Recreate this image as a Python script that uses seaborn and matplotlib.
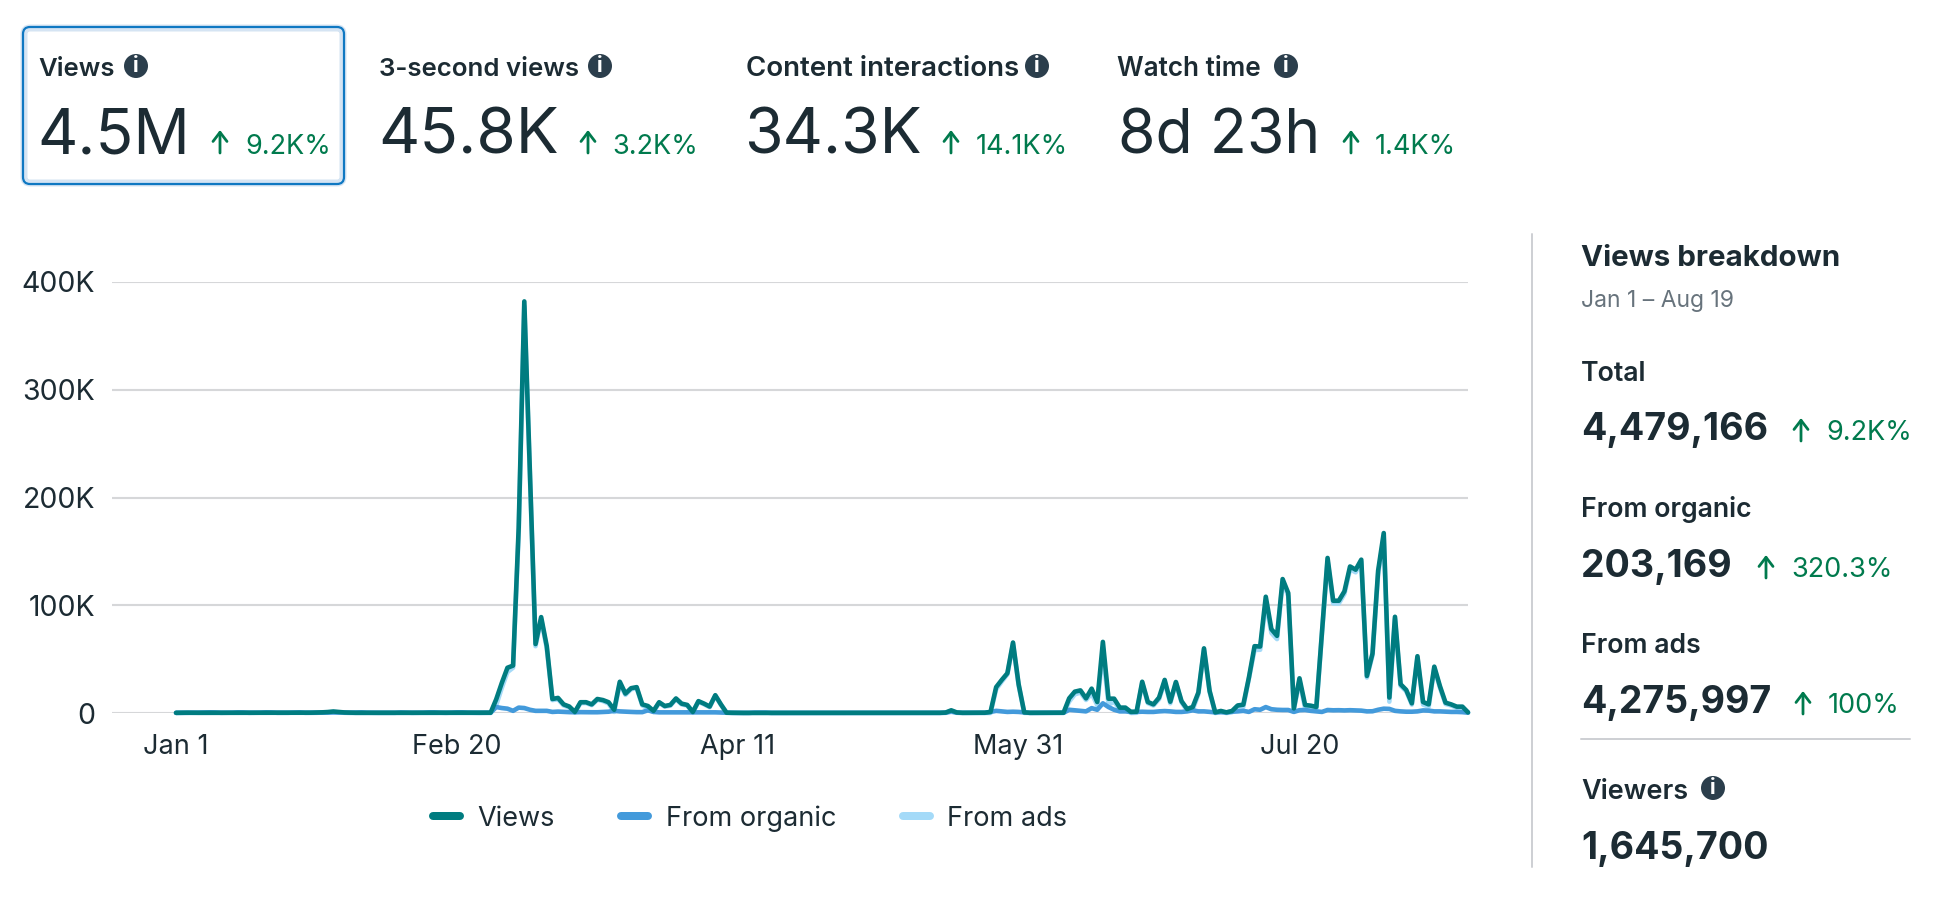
import pandas as pd
import matplotlib
matplotlib.use("Agg")
import matplotlib.pyplot as plt
import seaborn as sns
from matplotlib.lines import Line2D
from matplotlib.patches import Circle, FancyBboxPatch

# daily values in thousands, Jan 1 - Aug 19
views = [
    0.2, 0.3, 0.3, 0.2, 0.2, 0.2, 0.1, 0.1, 0.2, 0.3,
    0.3, 0.1, 0.1, 0.3, 0.3, 0.2, 0.1, 0.1, 0.3, 0.3,
    0.2, 0.2, 0.1, 0.2, 0.3, 0.4, 0.6, 0.9, 1.4, 0.9,
    0.5, 0.3, 0.2, 0.2, 0.2, 0.3, 0.2, 0.2, 0.3, 0.2,
    0.1, 0.2, 0.3, 0.3, 0.2, 0.1, 0.1, 0.2, 0.3, 0.2,
    0.1, 0.1, 0.2, 0.3, 0.3, 0.3, 0.3, 12.7, 28, 42,
    44, 172, 382, 222, 64, 89, 62, 13, 14, 8,
    6, 1, 10, 10, 8, 13, 12, 10, 3, 29,
    18, 23, 24, 8, 6.5, 2, 10, 6.5, 7.5, 13.5,
    8.7, 7.5, 1, 11, 8.7, 6, 16.5, 8, 0.3, 0.2,
    0.2, 0.1, 0.1, 0.2, 0.2, 0.2, 0.1, 0.2, 0.1, 0.1,
    0.1, 0.2, 0.2, 0.1, 0.1, 0.2, 0.2, 0.1, 0.2, 0.2,
    0.1, 0.1, 0.2, 0.2, 0.1, 0.2, 0.2, 0.1, 0.1, 0.2,
    0.2, 0.1, 0.2, 0.2, 0.2, 0.2, 0.2, 0.4, 2.5, 0.5,
    0.2, 0.2, 0.2, 0.2, 0.3, 1, 24, 30.7, 36.9, 65.4,
    26.7, 0.6, 0.2, 0.2, 0.1, 0.1, 0.2, 0.2, 0.3, 13.6,
    19.8, 21, 13.6, 22.6, 10.2, 66, 13.3, 13.3, 5, 5,
    1, 1.2, 29, 10.2, 8, 14.3, 30.7, 10.5, 28.8, 11,
    3.7, 5.6, 19, 60, 20.5, 0.6, 1.9, 0.6, 1.9, 7,
    7.7, 33, 62, 61.7, 107.9, 77.8, 71.6, 124.3, 111.3, 4.3,
    32.2, 7.4, 6.8, 5.6, 75, 143.9, 104.2, 104.2, 112.9, 136,
    133, 142.3, 34.4, 55.2, 132, 167, 14.3, 89.3, 26.7, 21.4,
    9, 52.7, 10.2, 8, 43, 25, 9.6, 8, 5.9, 5.9,
    0.6,
]
from_organic = [
    0.1, 0.2, 0.2, 0.2, 0.3, 0.5, 0.6, 0.5, 0.2, 0.2,
    0.3, 0.6, 0.5, 0.2, 0.2, 0.3, 0.6, 0.5, 0.2, 0.2,
    0.2, 0.4, 0.6, 0.2, 0.2, 0.2, 0.3, 0.4, 0.5, 0.4,
    0.3, 0.3, 0.5, 0.6, 0.3, 0.2, 0.2, 0.2, 0.2, 0.2,
    0.5, 0.3, 0.2, 0.2, 0.3, 0.6, 0.6, 0.3, 0.2, 0.3,
    0.6, 0.6, 0.3, 0.2, 0.2, 0.2, 0.3, 5.5, 4.6, 4,
    2, 5, 4.6, 3, 2, 2, 2, 1, 1.3, 1,
    0.8, 0.7, 0.8, 0.7, 0.7, 0.7, 0.9, 1.2, 2, 1.5,
    1.2, 1, 0.8, 0.8, 2.5, 1, 0.6, 0.6, 0.7, 0.7,
    0.7, 0.6, 0.5, 0.6, 0.6, 0.6, 0.6, 0.4, 0.1, 0.1,
    0.1, 0.1, 0.1, 0.4, 0.4, 0.4, 0.1, 0.1, 0.1, 0.1,
    0.1, 0.1, 0.1, 0.1, 0.1, 0.1, 0.1, 0.1, 0.1, 0.1,
    0.1, 0.1, 0.1, 0.1, 0.1, 0.1, 0.1, 0.1, 0.1, 0.1,
    0.1, 0.1, 0.1, 0.1, 0.1, 0.1, 0.1, 0.3, 1.5, 0.3,
    0.1, 0.1, 0.1, 0.1, 0.2, 1, 2, 1.5, 1, 1.2,
    1, 0.5, 0.1, 0.1, 0.1, 0.1, 0.1, 0.1, 0.2, 3,
    2.5, 2, 1.5, 4.5, 3, 9, 5.5, 3, 1.5, 1.5,
    1, 1, 1.2, 1, 1, 1.5, 1.8, 1.5, 1, 1,
    1.5, 2.5, 1.5, 1.5, 1, 0.6, 0.8, 0.6, 1.2, 1.5,
    2, 1, 3.5, 3, 5.5, 3.5, 3, 2.8, 2.8, 1,
    2.6, 2.8, 2, 1.5, 1, 2.8, 2.5, 2.6, 2.4, 2.6,
    2.4, 2.2, 1.5, 1.6, 3, 4, 3.8, 2, 1.5, 1.2,
    1.2, 1.5, 2.4, 2.2, 1.5, 1.5, 1.2, 1, 1, 0.8,
    0.3,
]
from_ads = [
    0.1, 0.1, 0.1, 0, 0, 0, 0, 0, 0, 0.1,
    0, 0, 0, 0.1, 0.1, 0, 0, 0, 0.1, 0.1,
    0, 0, 0, 0, 0.1, 0.2, 0.3, 0.5, 0.9, 0.5,
    0.2, 0, 0, 0, 0, 0.1, 0, 0, 0.1, 0,
    0, 0, 0.1, 0.1, 0, 0, 0, 0, 0.1, 0,
    0, 0, 0, 0.1, 0.1, 0.1, 0, 7.2, 23.4, 38,
    42, 167, 377.4, 219, 62, 87, 60, 12, 12.7, 7,
    5.2, 0.3, 9.2, 9.3, 7.3, 12.3, 11.1, 8.8, 1, 27.5,
    16.8, 22, 23.2, 7.2, 4, 1, 9.4, 5.9, 6.8, 12.8,
    8, 6.9, 0.5, 10.4, 8.1, 5.4, 15.9, 7.6, 0.2, 0.1,
    0.1, 0, 0, 0, 0, 0, 0, 0.1, 0, 0,
    0, 0.1, 0.1, 0, 0, 0.1, 0.1, 0, 0.1, 0.1,
    0, 0, 0.1, 0.1, 0, 0.1, 0.1, 0, 0, 0.1,
    0.1, 0, 0.1, 0.1, 0.1, 0.1, 0.1, 0.1, 1, 0.2,
    0.1, 0.1, 0.1, 0.1, 0.1, 0, 22, 29.2, 35.9, 64.2,
    25.7, 0.1, 0.1, 0.1, 0, 0, 0.1, 0.1, 0.1, 10.6,
    17.3, 19, 12.1, 18.1, 7.2, 57, 7.8, 10.3, 3.5, 3.5,
    0, 0.2, 27.8, 9.2, 7, 12.8, 28.9, 9, 27.8, 10,
    2.2, 3.1, 17.5, 58.5, 19.5, 0, 1.1, 0, 0.7, 5.5,
    5.7, 32, 58.5, 58.7, 102.4, 74.3, 68.6, 121.5, 108.5, 3.3,
    29.6, 4.6, 4.8, 4.1, 74, 141.1, 101.7, 101.6, 110.5, 133.4,
    130.6, 140.1, 32.9, 53.6, 129, 163, 10.5, 87.3, 25.2, 20.2,
    7.8, 51.2, 7.8, 5.8, 41.5, 23.5, 8.4, 7, 4.9, 5.1,
    0.3,
]
tick_dates = ["2025-01-01", "2025-02-20", "2025-04-11", "2025-05-31", "2025-07-20"]
tick_labels = ["Jan 1", "Feb 20", "Apr 11", "May 31", "Jul 20"]
y_ticks = [0, 100, 200, 300, 400]
y_labels = ["0", "100K", "200K", "300K", "400K"]

W, H = 1954, 898
INK = "#1C2B33"
GREEN = "#007A4D"
TEAL = "#007C80"
ORGANIC = "#439ADB"
ADS = "#A4DAF8"
PX = 72 / 100  # points per pixel at dpi 100

sns.set_theme(style="white")
plt.rcParams["font.family"] = ["Inter", "DejaVu Sans"]

dates = pd.date_range("2025-01-01", periods=len(views))
df = pd.DataFrame({"date": dates, "Views": views, "From organic": from_organic, "From ads": from_ads})
long_df = df.melt(id_vars="date", var_name="series", value_name="value")

fig = plt.figure(figsize=(W / 100, H / 100), dpi=100, facecolor="white")
ax = fig.add_axes([112 / W, 1 - 713 / H, (1468 - 112) / W, (713 - 282) / H])

sns.lineplot(
    data=long_df, x="date", y="value", hue="series",
    hue_order=["From ads", "From organic", "Views"],
    palette={"From ads": ADS, "From organic": ORGANIC, "Views": TEAL},
    linewidth=4.6 * PX, errorbar=None, legend=False, ax=ax, zorder=3,
)
for line in ax.lines:
    line.set_clip_on(False)

ax.set_xlim(dates[0] - pd.Timedelta(days=11.4), dates[-1])
ax.set_ylim(0, 400)
ax.set_xticks(pd.to_datetime(tick_dates))
ax.set_xticklabels(tick_labels)
ax.set_yticks(y_ticks)
ax.set_yticklabels(y_labels)
ax.set_xlabel("")
ax.set_ylabel("")
ax.grid(axis="y", color="#D6D7D9", linewidth=2.1 * PX)
ax.grid(axis="x", visible=False)
ax.set_axisbelow(True)
sns.despine(ax=ax, left=True, bottom=True)
ax.tick_params(axis="x", length=0, pad=15, labelsize=19.5, labelcolor=INK)
ax.tick_params(axis="y", length=0, pad=12, labelsize=20.5, labelcolor=INK)

handles = [Line2D([], [], color=c, linewidth=8 * PX, solid_capstyle="round") for c in (TEAL, ORGANIC, ADS)]
fig.legend(
    handles, ["Views", "From organic", "From ads"], loc="center",
    bbox_to_anchor=(750 / W, 1 - 818.5 / H), ncol=3, frameon=False, fontsize=19.5,
    labelcolor=INK, handlelength=1.0, handletextpad=0.65, columnspacing=2.45,
)

# overlay in pixel coordinates for the cards and the side panel
ov = fig.add_axes([0, 0, 1, 1], zorder=5)
ov.set_xlim(0, W)
ov.set_ylim(H, 0)
ov.axis("off")
ov.patch.set_alpha(0)


def put(x, y, s, size, weight="normal", color=INK):
    ov.text(x, y, s, fontsize=size, fontweight=weight, color=color, va="baseline", ha="left")


def info(x, y):
    ov.add_patch(Circle((x, y), 12, color="#2B3E4C", lw=0))
    ov.text(x, y + 0.5, "i", fontsize=15, fontweight="bold", color="white", ha="center", va="center")


def up_arrow(x, top, bottom):
    ov.annotate(
        "", xy=(x, top), xytext=(x, bottom),
        arrowprops=dict(arrowstyle="->,head_length=0.55,head_width=0.42", color=GREEN, lw=2.0,
                        shrinkA=0, shrinkB=0),
    )


# selected card
ov.add_patch(FancyBboxPatch((24, 28), 319, 155, boxstyle="round,pad=0,rounding_size=6",
                            facecolor="white", edgecolor="#D5E4F3", lw=7 * PX))
ov.add_patch(FancyBboxPatch((23, 27), 321, 157, boxstyle="round,pad=0,rounding_size=7",
                            facecolor="none", edgecolor="#0F78C2", lw=2.2 * PX))

card_labels = ["Views", "3-second views", "Content interactions", "Watch time"]
card_label_x = [38, 379, 746, 1117]
card_label_size = [18.5, 18.6, 19.9, 18.8]
card_icon_x = [136, 600, 1037, 1286]
card_values = ["4.5M", "45.8K", "34.3K", "8d 23h"]
card_value_x = [37, 378, 744, 1118]
card_value_size = [45, 46, 45, 43.7]
card_arrow_x = [220, 588, 951, 1351]
card_changes = ["9.2K%", "3.2K%", "14.1K%", "1.4K%"]
card_change_x = [245, 612, 976, 1375]

for i in range(4):
    put(card_label_x[i], 76, card_labels[i], card_label_size[i], "semibold")
    info(card_icon_x[i], 66)
    put(card_value_x[i], 154, card_values[i], card_value_size[i])
    up_arrow(card_arrow_x[i], 130, 153)
    put(card_change_x[i], 154, card_changes[i], 19.5, color=GREEN)

# side panel
ov.plot([1532, 1532], [234, 867], color="#CED0D4", lw=2 * PX)
ov.plot([1581, 1910], [739, 739], color="#CED0D4", lw=2 * PX)
put(1581, 266, "Views breakdown", 21.3, "bold")
put(1581, 307, "Jan 1 – Aug 19", 16.5, color="#67737C")

panel_labels = ["Total", "From organic", "From ads"]
panel_label_y = [381, 517, 653]
panel_values = ["4,479,166", "203,169", "4,275,997"]
panel_value_y = [440, 577, 713]
panel_arrow_x = [1801, 1766, 1803]
panel_changes = ["9.2K%", "320.3%", "100%"]
panel_change_x = [1826, 1791, 1828]

for i in range(3):
    put(1581, panel_label_y[i], panel_labels[i], 19.2, "semibold")
    put(1581, panel_value_y[i], panel_values[i], 27, "bold")
    up_arrow(panel_arrow_x[i], panel_value_y[i] - 22, panel_value_y[i] + 1)
    put(panel_change_x[i], panel_value_y[i], panel_changes[i], 19.5, color=GREEN)

put(1581, 799, "Viewers", 19.5, "semibold")
info(1713, 788)
put(1581, 859, "1,645,700", 27, "bold")

fig.savefig("out.png", dpi=100)
